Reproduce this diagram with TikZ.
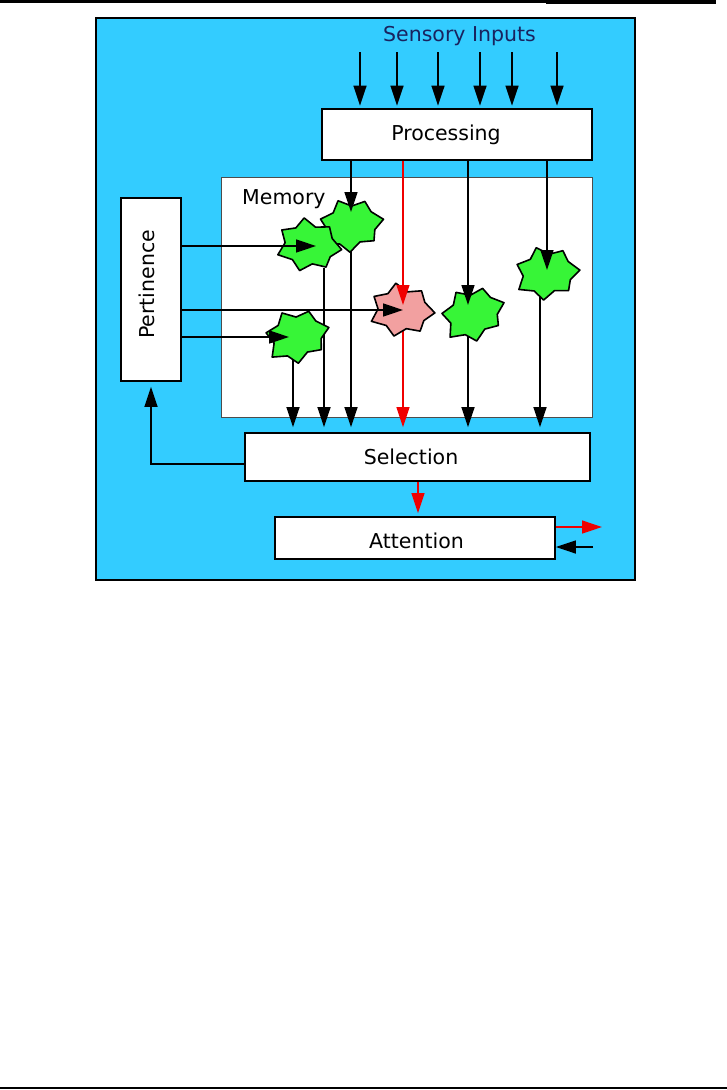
\documentclass[tikz,border=0pt]{standalone}
\usepackage{fontspec}
\setmainfont{DejaVu Sans}
\usetikzlibrary{arrows.meta}
\definecolor{bgblue}{RGB}{51,204,255}
\definecolor{leafgreen}{RGB}{55,245,55}
\definecolor{leafpink}{RGB}{242,160,160}
\definecolor{navytext}{RGB}{25,35,95}
\definecolor{arrred}{RGB}{240,0,0}
\newcommand{\drawleaf}[3]{%
  \path[leaf, fill=#2, shift={(#1)}, rotate=#3, yscale=0.82]
    (0:33) -- (25:25) -- (50:31) -- (75:23) -- (100:33) -- (125:25) -- (150:34) -- (177:24)
    -- (205:32) -- (230:24) -- (255:33) -- (280:23) -- (305:31) -- (332:25) -- cycle;}
\begin{document}
\begin{tikzpicture}[x=1pt,y=-1pt,
  lab/.style={font=\fontsize{20.5}{23}\selectfont, inner sep=0pt},
  box/.style={draw=black, line width=1.8pt, fill=white, inner sep=0pt},
  membox/.style={draw=black!70, line width=1pt, fill=white, inner sep=0pt},
  arr/.style={line width=1.6pt, draw=black, -{Triangle[length=20pt,width=13pt]}},
  redarr/.style={line width=1.3pt, draw=arrred, -{Triangle[length=20pt,width=13pt,fill=arrred]}},
  plain/.style={line width=1.6pt, draw=black},
  leaf/.style={draw=black, line width=1.6pt, line join=round}]
\useasboundingbox (0,0) rectangle (727,1090);
% page rules
\draw[line width=2.5pt] (0,1.25) -- (546,1.25);
\draw[line width=4pt] (546,2) -- (716,2);
\draw[line width=2.5pt] (0,1088) -- (727,1088);
% frame
\draw[fill=bgblue, line width=1.8pt] (96,18) rectangle (635,580);
% boxes
\node[membox, minimum width=371pt, minimum height=240pt] (mem) at (406.5,297) {};
\node[box, minimum width=270pt, minimum height=51pt] (proc) at (457,134.5) {};
\node[box, minimum width=60pt, minimum height=183pt] (pert) at (151,289.5) {};
\node[box, minimum width=345pt, minimum height=48pt] (sel) at (417.5,457) {};
\node[box, minimum width=280pt, minimum height=42pt] (att) at (415,538) {};
% texts
\node[lab, anchor=base, text=navytext] (sensT) at (459.5,41) {Sensory Inputs};
\node[lab, anchor=base] (procT) at (446,140) {Processing};
\node[lab, anchor=base west] (memT) at (242,204) {Memory};
\node[lab, rotate=90] (pertT) at (147,284.5) {Pertinence};
\node[lab, anchor=base] (selT) at (411,464) {Selection};
\node[lab, anchor=base] (attT) at (416.5,548) {Attention};
% coordinates
\coordinate (s1) at (360,52);
\coordinate (s2) at (397,52);
\coordinate (s3) at (438,52);
\coordinate (s4) at (480,52);
\coordinate (s5) at (512,52);
\coordinate (s6) at (557,52);
\coordinate (lA) at (309,245);
\coordinate (lB) at (351,225);
\coordinate (lC) at (297,336);
\coordinate (lD) at (402,310);
\coordinate (lE) at (473,314);
\coordinate (lF) at (547,273);
\coordinate (tA) at (316,246);
\coordinate (tB) at (351,212);
\coordinate (tC) at (289,337);
\coordinate (tD) at (403,305);
\coordinate (tDh) at (403,310);
\coordinate (tE) at (468,305);
\coordinate (tF) at (547,270);
\coordinate (bA) at (324,268);
\coordinate (bC) at (293,358);
\coordinate (bF) at (540,296);
\coordinate (sa) at (418,0);
\coordinate (outR) at (602,527);
\coordinate (inR) at (593,547);
% sensory inputs
\foreach \s in {s1,s2,s3,s4,s5,s6}
  \draw[arr, shorten >=2.5pt] (\s) -- (\s |- proc.north);
% lines behind leaves
\draw[arr, shorten >=5pt] (proc.south -| tB) -- (tB |- sel.north);
\draw[redarr, line width=1.1pt, shorten >=5pt] (proc.south -| tD) -- (tD |- sel.north);
\draw[arr, shorten >=5pt] (proc.south -| tE) -- (tE |- sel.north);
\draw[plain] (proc.south -| tF) -- (tF);
\draw[arr, shorten >=5pt] (bF) -- (bF |- sel.north);
\draw[arr, shorten >=5pt] (bA) -- (bA |- sel.north);
\draw[arr, shorten >=5pt] (bC) -- (bC |- sel.north);
% leaves
\drawleaf{lB}{leafgreen}{10}
\drawleaf{lA}{leafgreen}{-8}
\drawleaf{lC}{leafgreen}{15}
\drawleaf{lD}{leafpink}{-5}
\drawleaf{lE}{leafgreen}{20}
\drawleaf{lF}{leafgreen}{5}
% arrows into leaves
\draw[arr] (proc.south -| tB) -- (tB);
\draw[redarr, line width=1.1pt] (proc.south -| tD) -- (tD);
\draw[arr] (proc.south -| tE) -- (tE);
\draw[arr] (proc.south -| tF) -- (tF);
\draw[arr] (pert.east |- tA) -- (tA);
\draw[arr] (pert.east |- tDh) -- (tDh);
\draw[arr] (pert.east |- tC) -- (tC);
% selection feedback and attention
\draw[arr, shorten >=5pt] ([yshift=-7pt]sel.west) -| (pert.south);
\draw[redarr, shorten >=3pt] (sel.south -| sa) -- (att.north -| sa);
\draw[redarr] (att.east |- outR) -- (outR);
\draw[arr] (inR) -- (att.east |- inR);
\end{tikzpicture}
\end{document}
